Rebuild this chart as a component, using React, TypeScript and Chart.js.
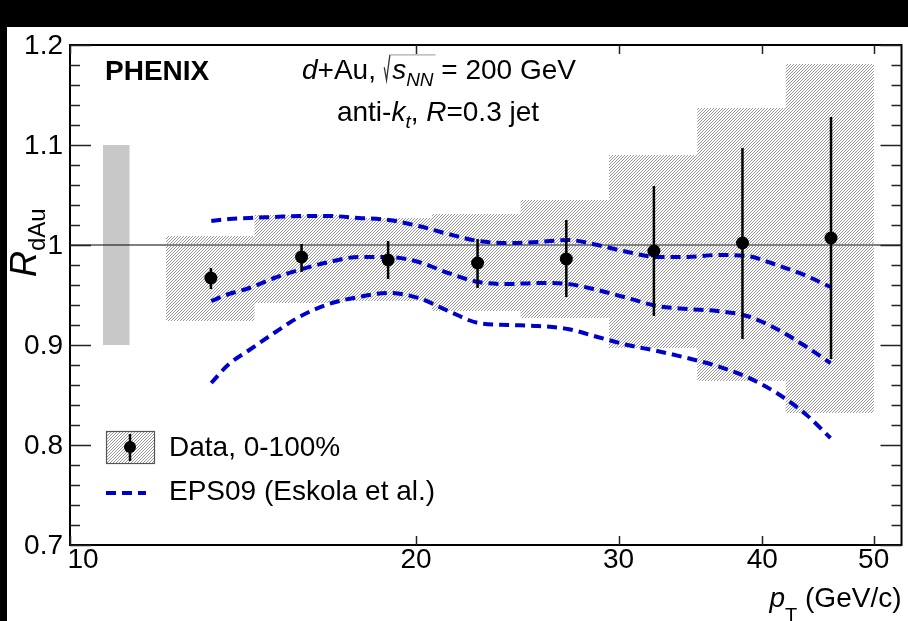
import React, { useEffect, useRef } from 'react';
import { Chart, registerables } from 'chart.js';

Chart.register(...registerables);

const FONT = '"Liberation Sans", Arial, Helvetica, sans-serif';

// ---------------- data ----------------
const binEdges = [12.12, 14.47, 17.28, 20.64, 24.65, 29.43, 35.12, 41.93, 50.03];
const ptCenters = [13.26, 15.9, 18.91, 22.62, 27.02, 32.2, 38.45, 45.91];
const rdauValues = [0.967, 0.988, 0.985, 0.982, 0.986, 0.994, 1.002, 1.007];
const statLow = [0.956, 0.973, 0.966, 0.957, 0.948, 0.929, 0.906, 0.886];
const statHigh = [0.977, 1.001, 1.004, 1.006, 1.025, 1.059, 1.097, 1.128];
const sysLow = [0.924, 0.942, 0.944, 0.934, 0.927, 0.897, 0.864, 0.832];
const sysHigh = [1.009, 1.03, 1.027, 1.031, 1.045, 1.09, 1.137, 1.181];

const globalSysPt = [10.68, 11.27];
const globalSysLow = 0.9;
const globalSysHigh = 1.1;

const eps09Pt = [13.27, 13.75, 14.32, 15.05, 15.82, 16.8, 17.83, 18.93, 20.1, 21.33, 22.65, 24.04, 25.52, 27.1, 28.76, 30.54, 32.42, 34.42, 36.54, 38.79, 41.18, 43.72, 45.86];
const eps09Upper = [1.024, 1.026, 1.027, 1.028, 1.029, 1.029, 1.027, 1.025, 1.019, 1.011, 1.004, 1.002, 1.003, 1.005, 1.0, 0.993, 0.988, 0.988, 0.99, 0.989, 0.98, 0.969, 0.958];
const eps09Central = [0.944, 0.951, 0.957, 0.967, 0.975, 0.983, 0.988, 0.988, 0.983, 0.972, 0.963, 0.961, 0.962, 0.961, 0.955, 0.947, 0.939, 0.936, 0.934, 0.929, 0.916, 0.898, 0.882];
const eps09Lower = [0.862, 0.881, 0.895, 0.912, 0.928, 0.941, 0.948, 0.952, 0.947, 0.934, 0.922, 0.92, 0.919, 0.916, 0.908, 0.9, 0.894, 0.887, 0.879, 0.868, 0.852, 0.83, 0.807];

const xMin = 10;
const xMax = 52.87;
const yMin = 0.7;
const yMax = 1.2;
const xTickValues = [10, 20, 30, 40, 50];
const xTickLabels = ['10', '20', '30', '40', '50'];
const yTickValues = [0.7, 0.8, 0.9, 1.0, 1.1, 1.2];
const yTickLabels = ['0.7', '0.8', '0.9', '1', '1.1', '1.2'];
const yMinorStep = 0.02;

const legendLabels = ['Data, 0-100%', 'EPS09 (Eskola et al.)'];

const EPS_COLOR = '#0000cc';

// ---------------- helpers ----------------
function makeHatch(): CanvasPattern {
  const c = document.createElement('canvas');
  c.width = 3;
  c.height = 3;
  const g = c.getContext('2d')!;
  g.strokeStyle = 'rgba(135,135,135,0.9)';
  g.lineWidth = 0.95;
  g.beginPath();
  for (let k = -1; k <= 1; k++) {
    g.moveTo(k * 3, 3);
    g.lineTo(k * 3 + 3, 0);
  }
  g.stroke();
  return g.createPattern(c, 'repeat')!;
}

type Seg = { t: string; size: number; style?: string; dy?: number; radical?: number };

function segFont(s: Seg) {
  return `${s.style ?? ''} ${s.size}px ${FONT}`;
}
function segWidth(ctx: CanvasRenderingContext2D, s: Seg) {
  if (s.radical) return s.size * 0.3;
  ctx.font = segFont(s);
  return ctx.measureText(s.t).width;
}
function drawRich(ctx: CanvasRenderingContext2D, segs: Seg[], x: number, y: number, align: 'left' | 'center' | 'right') {
  const widths = segs.map((s) => segWidth(ctx, s));
  const total = widths.reduce((a, b) => a + b, 0);
  let cx = align === 'center' ? x - total / 2 : align === 'right' ? x - total : x;
  ctx.textAlign = 'left';
  ctx.textBaseline = 'alphabetic';
  segs.forEach((s, i) => {
    if (s.radical) {
      let cover = 0;
      for (let j = i + 1; j <= i + s.radical && j < segs.length; j++) cover += widths[j];
      const sz = s.size;
      ctx.save();
      ctx.strokeStyle = '#333';
      ctx.lineWidth = 1.3;
      ctx.beginPath();
      ctx.moveTo(cx + 0.02 * sz, y - 0.42 * sz);
      ctx.lineTo(cx + 0.1 * sz, y + 0.04 * sz);
      ctx.lineTo(cx + 0.22 * sz, y - 0.86 * sz);
      ctx.stroke();
      ctx.strokeStyle = '#999';
      ctx.lineWidth = 1;
      ctx.beginPath();
      ctx.moveTo(cx + 0.22 * sz, y - 0.86 * sz);
      ctx.lineTo(cx + widths[i] + cover + 2, y - 0.86 * sz);
      ctx.stroke();
      ctx.restore();
    } else {
      ctx.font = segFont(s);
      ctx.fillText(s.t, cx, y + (s.dy ?? 0));
    }
    cx += widths[i];
  });
}

function stepData(values: number[]) {
  const pts = values.map((v, i) => ({ x: binEdges[i], y: v }));
  pts.push({ x: binEdges[values.length], y: values[values.length - 1] });
  return pts;
}

function errorBarData() {
  const pts: { x: number; y: number | null }[] = [];
  ptCenters.forEach((x, i) => {
    pts.push({ x, y: statLow[i] });
    pts.push({ x, y: statHigh[i] });
    pts.push({ x, y: null });
  });
  return pts;
}

export default function App() {
  const ref = useRef<HTMLCanvasElement>(null);

  useEffect(() => {
    const canvas = ref.current!;
    const hatch = makeHatch();

    const rootPlugin = {
      id: 'rootStyle',
      beforeDraw(chart: any) {
        const { ctx, width, height } = chart;
        ctx.save();
        ctx.fillStyle = '#000';
        ctx.fillRect(0, 0, width, height);
        ctx.fillStyle = '#fff';
        ctx.fillRect(7, 27, width - 7, height - 27);
        ctx.restore();
      },
      afterDatasetsDraw(chart: any) {
        const { ctx, chartArea: a, scales } = chart;
        const xs = scales.x;
        const ys = scales.y;
        ctx.save();

        // frame
        ctx.strokeStyle = '#000';
        ctx.lineWidth = 2;
        ctx.strokeRect(a.left, a.top, a.right - a.left, a.bottom - a.top);

        // y ticks (left & right, inward)
        ctx.strokeStyle = '#222';
        ctx.lineWidth = 1.5;
        const n = Math.round((yMax - yMin) / yMinorStep);
        for (let i = 0; i <= n; i++) {
          const v = yMin + i * yMinorStep;
          const major = yTickValues.some((t) => Math.abs(t - v) < 1e-6);
          const len = major ? 21 : 10;
          const py = Math.round(ys.getPixelForValue(v)) + 0.5;
          ctx.beginPath();
          ctx.moveTo(a.left, py);
          ctx.lineTo(a.left + len, py);
          ctx.moveTo(a.right, py);
          ctx.lineTo(a.right - len, py);
          ctx.stroke();
        }
        // x ticks (bottom & top, inward)
        xTickValues.forEach((v) => {
          const px = Math.round(xs.getPixelForValue(v)) + 0.5;
          ctx.beginPath();
          ctx.moveTo(px, a.bottom);
          ctx.lineTo(px, a.bottom - 9);
          ctx.moveTo(px, a.top);
          ctx.lineTo(px, a.top + 9);
          ctx.stroke();
        });

        // tick labels
        ctx.fillStyle = '#000';
        ctx.font = `28px ${FONT}`;
        ctx.textAlign = 'right';
        ctx.textBaseline = 'middle';
        yTickValues.forEach((v, i) => ctx.fillText(yTickLabels[i], a.left - 7, ys.getPixelForValue(v) + 1));
        ctx.textAlign = 'center';
        xTickValues.forEach((v, i) => {
          let px = xs.getPixelForValue(v);
          if (i === 0) px += 13;
          ctx.fillText(xTickLabels[i], px, a.bottom + 15);
        });

        // axis titles
        drawRich(ctx, [
          { t: 'p', size: 28, style: 'italic' },
          { t: 'T', size: 20, dy: 15 },
          { t: ' (GeV/c)', size: 28 },
        ], a.right, 607, 'right');

        ctx.save();
        ctx.translate(36, 277);
        ctx.rotate(-Math.PI / 2);
        drawRich(ctx, [
          { t: 'R', size: 36, style: 'italic' },
          { t: 'dAu', size: 24, dy: 9 },
        ], 0, 0, 'left');
        ctx.restore();

        // labels on the plot
        ctx.font = `bold 28px ${FONT}`;
        ctx.textAlign = 'left';
        ctx.textBaseline = 'alphabetic';
        ctx.fillText('PHENIX', 105, 80);

        drawRich(ctx, [
          { t: 'd', size: 28, style: 'italic' },
          { t: '+Au, ', size: 28 },
          { t: '', size: 28, radical: 2 },
          { t: 's', size: 28, style: 'italic' },
          { t: 'NN', size: 19, style: 'italic', dy: 7 },
          { t: ' = 200 GeV', size: 28 },
        ], 439, 79, 'center');

        drawRich(ctx, [
          { t: 'anti-', size: 28 },
          { t: 'k', size: 28, style: 'italic' },
          { t: 't', size: 19, style: 'italic', dy: 7 },
          { t: ', ', size: 28 },
          { t: 'R', size: 28, style: 'italic' },
          { t: '=0.3 jet', size: 28 },
        ], 438, 121, 'center');

        // legend
        ctx.fillStyle = hatch;
        ctx.fillRect(106, 431, 48, 32);
        ctx.strokeStyle = '#555';
        ctx.lineWidth = 1.2;
        ctx.strokeRect(106.5, 431.5, 48, 32);
        ctx.strokeStyle = '#000';
        ctx.lineWidth = 2.5;
        ctx.beginPath();
        ctx.moveTo(130, 434);
        ctx.lineTo(130, 461);
        ctx.stroke();
        ctx.fillStyle = '#000';
        ctx.beginPath();
        ctx.arc(130, 447, 6, 0, Math.PI * 2);
        ctx.fill();

        ctx.strokeStyle = EPS_COLOR;
        ctx.lineWidth = 4;
        ctx.setLineDash([10, 6]);
        ctx.beginPath();
        ctx.moveTo(106, 493);
        ctx.lineTo(146, 493);
        ctx.stroke();
        ctx.setLineDash([]);

        ctx.fillStyle = '#000';
        ctx.font = `28px ${FONT}`;
        ctx.textAlign = 'left';
        ctx.textBaseline = 'middle';
        ctx.fillText(legendLabels[0], 169, 448);
        ctx.fillText(legendLabels[1], 169, 492);

        ctx.restore();
      },
    };

    const epsLine = (vals: number[], order: number) => ({
      data: eps09Pt.map((x, i) => ({ x, y: vals[i] })),
      borderColor: EPS_COLOR,
      borderWidth: 4,
      borderDash: [10, 6],
      pointRadius: 0,
      cubicInterpolationMode: 'monotone',
      fill: false,
      order,
    });

    const chart = new Chart(canvas, {
      type: 'line',
      data: {
        datasets: [
          {
            data: ptCenters.map((x, i) => ({ x, y: rdauValues[i] })),
            showLine: false,
            pointRadius: 6.5,
            pointBackgroundColor: '#000',
            pointBorderWidth: 0,
            order: 0,
          },
          {
            data: errorBarData(),
            borderColor: '#000',
            borderWidth: 2.5,
            pointRadius: 0,
            spanGaps: false,
            order: 1,
          },
          epsLine(eps09Upper, 2),
          epsLine(eps09Central, 3),
          epsLine(eps09Lower, 4),
          {
            data: stepData(sysHigh),
            stepped: 'before',
            borderWidth: 0,
            borderColor: 'rgba(0,0,0,0)',
            pointRadius: 0,
            fill: '+1',
            backgroundColor: hatch,
            order: 6,
          },
          {
            data: stepData(sysLow),
            stepped: 'before',
            borderWidth: 0,
            borderColor: 'rgba(0,0,0,0)',
            pointRadius: 0,
            fill: false,
            order: 7,
          },
          {
            data: [{ x: xMin, y: 1 }, { x: xMax, y: 1 }],
            borderColor: '#000',
            borderWidth: 1,
            pointRadius: 0,
            order: 8,
          },
          {
            data: globalSysPt.map((x) => ({ x, y: globalSysHigh })),
            borderWidth: 0,
            borderColor: 'rgba(0,0,0,0)',
            pointRadius: 0,
            fill: { value: globalSysLow },
            backgroundColor: '#c8c8c8',
            order: 9,
          },
        ] as any,
      },
      options: {
        animation: false,
        responsive: false,
        devicePixelRatio: 1,
        events: [],
        layout: { padding: { top: 45, right: 3, left: 0, bottom: 0 } },
        plugins: { legend: { display: false }, tooltip: { enabled: false } },
        scales: {
          x: {
            type: 'logarithmic',
            min: xMin,
            max: xMax,
            grid: { display: false },
            border: { display: false },
            ticks: { display: false },
            afterFit: (s: any) => { s.height = 76; },
          },
          y: {
            type: 'linear',
            min: yMin,
            max: yMax,
            grid: { display: false },
            border: { display: false },
            ticks: { display: false },
            afterFit: (s: any) => { s.width = 70; },
          },
        },
      } as any,
      plugins: [rootPlugin],
    });

    return () => chart.destroy();
  }, []);

  return (
    <div style={{ position: 'fixed', left: 0, top: 0, width: 908, height: 621, background: '#000' }}>
      <canvas ref={ref} width={908} height={621} style={{ display: 'block', width: 908, height: 621 }} />
    </div>
  );
}
